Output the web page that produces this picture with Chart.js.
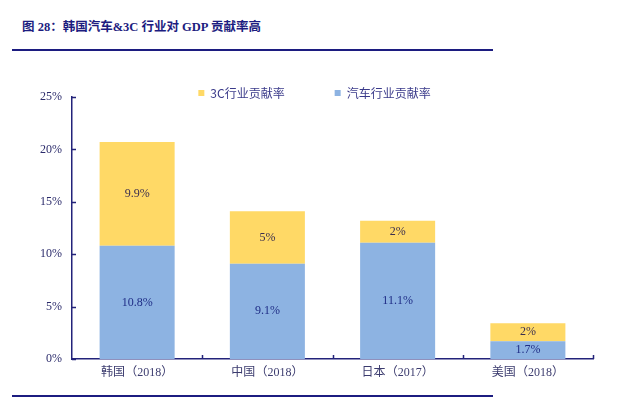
<!DOCTYPE html>
<html><head><meta charset="utf-8">
<script src="https://cdn.jsdelivr.net/npm/chart.js@4/dist/chart.umd.min.js"></script>
<style>
html,body{margin:0;padding:0;background:#fff;}
#wrap{position:relative;width:640px;height:398px;overflow:hidden;background:#fff;}
#title{position:absolute;left:22px;top:16px;font:bold 12.5px "Liberation Serif","Noto Sans CJK SC",serif;color:#1c1c80;white-space:nowrap;}
.rule{position:absolute;left:12px;width:481px;height:2px;background:#1c1c80;}
canvas{position:absolute;left:0;top:0;}
</style></head><body>
<div id="wrap">
<div id="title">图 28：韩国汽车&amp;3C 行业对 GDP 贡献率高</div>
<div class="rule" style="top:49px"></div>
<div class="rule" style="top:395px"></div>
<canvas id="c" width="640" height="398"></canvas>
</div>
<script>
const categories = ['韩国（2018）', '中国（2018）', '日本（2017）', '美国（2018）'];
const autoValues = [10.8, 9.1, 11.1, 1.7];
const c3Values = [9.9, 5.0, 2.1, 1.7];
const autoLabels = ['10.8%', '9.1%', '11.1%', '1.7%'];
const c3Labels = ['9.9%', '5%', '2%', '2%'];
const yTicks = [0, 5, 10, 15, 20, 25];

const AXIS = '#23237a';
const serif = '"Liberation Serif","Noto Sans CJK SC",serif';

const legendFitPlugin = {
  id: 'legendFit',
  beforeLayout(chart) {
    const lg = chart.legend;
    if (lg && !lg._wrapped) {
      const orig = lg.fit;
      lg.fit = function () { orig.call(this); this.height = 60; };
      lg._wrapped = true;
    }
  },
  afterLayout(chart) {
    const lg = chart.legend;
    if (lg) {
      lg.bottom += 12; lg.height += 12;
      lg.left += 18; lg.right += 18;
    }
  }
};

const valueLabels = {
  id: 'valueLabels',
  afterDatasetsDraw(chart) {
    const ctx = chart.ctx;
    const sets = [{idx: 0, labels: autoLabels, color: '#1f2d86'}, {idx: 1, labels: c3Labels, color: '#3b2f4f'}];
    ctx.save();
    ctx.font = '12px ' + serif;
    ctx.textAlign = 'center';
    ctx.textBaseline = 'middle';
    sets.forEach(s => {
      const meta = chart.getDatasetMeta(s.idx);
      meta.data.forEach((el, i) => {
        ctx.fillStyle = s.color;
        ctx.fillText(s.labels[i], el.x, (el.y + el.base) / 2);
      });
    });
    ctx.restore();
  }
};

const innerTicks = {
  id: 'innerTicks',
  afterDraw(chart) {
    const ctx = chart.ctx;
    const xs = chart.scales.x, ys = chart.scales.y;
    const area = chart.chartArea;
    ctx.save();
    ctx.strokeStyle = AXIS;
    ctx.lineWidth = 1.5;
    ctx.beginPath();
    yTicks.forEach(v => {
      const y = Math.round(ys.getPixelForValue(v)) + 0.5;
      ctx.moveTo(area.left, y);
      ctx.lineTo(area.left + 4, y);
    });
    for (let i = 0; i < categories.length; i++) {
      const x = Math.round(xs.getPixelForValue(i + 0.5)) + 0.5;
      ctx.moveTo(x, area.bottom);
      ctx.lineTo(x, area.bottom - 4);
    }
    ctx.stroke();
    ctx.restore();
  }
};

new Chart(document.getElementById('c'), {
  type: 'bar',
  data: {
    labels: categories,
    datasets: [
      {label: '汽车行业贡献率', data: autoValues, backgroundColor: '#8db3e2', barPercentage: 0.576, categoryPercentage: 1},
      {label: '3C行业贡献率', data: c3Values, backgroundColor: '#ffd966', barPercentage: 0.576, categoryPercentage: 1}
    ]
  },
  options: {
    responsive: false,
    animation: false,
    devicePixelRatio: 1,
    layout: {padding: {top: 37, left: 0, right: 47, bottom: 0}},
    plugins: {
      legend: {
        position: 'top',
        reverse: true,
        labels: {
          boxWidth: 6, boxHeight: 6, padding: 50,
          color: '#3a3a8a',
          font: {size: 12, family: '"Noto Sans CJK SC",sans-serif'}
        }
      },
      tooltip: {enabled: false}
    },
    scales: {
      x: {
        stacked: true,
        grid: {display: false, drawTicks: false},
        border: {display: true, color: AXIS, width: 1.5},
        ticks: {color: '#3b3b6e', font: {size: 12, family: serif}, padding: 7, maxRotation: 0},
        afterFit(s) { s.height = 39; }
      },
      y: {
        stacked: true,
        min: 0, max: 25,
        afterBuildTicks(s) { s.ticks = yTicks.map(v => ({value: v})); },
        grid: {display: false, drawTicks: false},
        border: {display: true, color: AXIS, width: 1.5},
        ticks: {color: '#2b2b6b', font: {size: 12, family: serif}, padding: 10, callback: v => v + '%'},
        afterFit(s) { s.width = 72; }
      }
    }
  },
  plugins: [legendFitPlugin, valueLabels, innerTicks]
});
</script>
</body></html>
